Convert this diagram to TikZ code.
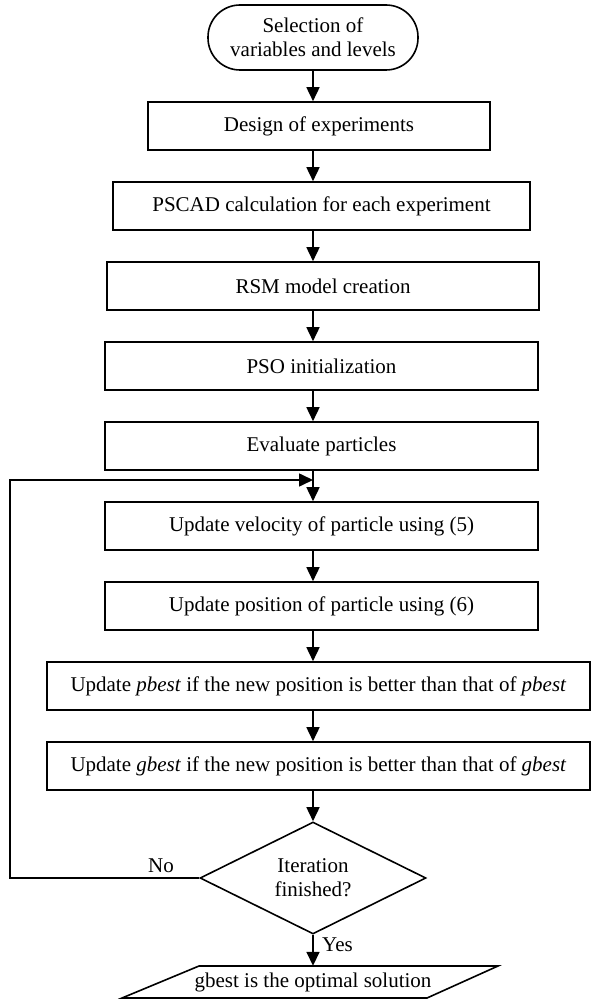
\documentclass[tikz,border=0pt]{standalone}
\usepackage{fontspec}
\setmainfont{Liberation Serif}
\usetikzlibrary{arrows.meta,shapes.geometric,calc}
\begin{document}
\begin{tikzpicture}[x=1pt,y=-1pt,
  every node/.style={font=\fontsize{21}{24}\selectfont},
  box/.style={draw,line width=1.6pt,rectangle,minimum height=48pt,inner sep=0pt,align=center},
  arr/.style={line width=1.6pt,-{Triangle[length=14pt,width=13pt]}},
  ln/.style={line width=1.6pt}]
\useasboundingbox (0,0) rectangle (591,1000);
\node[draw,line width=1.6pt,rounded corners=32pt,minimum width=210pt,minimum height=65pt,inner sep=0pt,align=center] (start) at (313,37.5) {Selection of\\variables and levels};
\node[box,minimum width=342pt] (design) at (319,126) {Design of experiments};
\node[box,minimum width=417pt] (pscad) at (321.5,206) {PSCAD calculation for each experiment};
\node[box,minimum width=432pt] (rsm) at (323,286) {RSM model creation};
\node[box,minimum width=433pt] (pso) at (321.5,366) {PSO initialization};
\node[box,minimum width=433pt] (eval) at (321.5,446) {Evaluate particles};
\node[box,minimum width=433pt] (vel) at (321.5,526) {Update velocity of particle using (5)};
\node[box,minimum width=433pt] (pos) at (321.5,606) {Update position of particle using (6)};
\node[box,minimum width=543pt] (pb) at (318.5,686) {Update \textit{pbest} if the new position is better than that of \textit{pbest}};
\node[box,minimum width=543pt] (gb) at (318.5,766) {Update \textit{gbest} if the new position is better than that of \textit{gbest}};
\node[draw,diamond,line width=1.6pt,aspect=2,inner sep=0pt,minimum width=226pt,minimum height=112pt,align=center] (dec) at (313,878) {Iteration\\finished?};
\node[minimum width=300pt,minimum height=32pt,inner sep=0pt] (out) at (313,982) {gbest is the optimal solution};
\draw[ln] (122,998) -- (199,966) -- (498,966) -- (427,998) -- cycle;
\coordinate (ax) at (313,0);
\coordinate (lx) at (10,0);
\coordinate (j) at (313,480);
\draw[arr] (start.south) -- (design.north -| start.south);
\draw[arr] (design.south -| ax) -- (pscad.north -| ax);
\draw[arr] (pscad.south -| ax) -- (rsm.north -| ax);
\draw[arr] (rsm.south -| ax) -- (pso.north -| ax);
\draw[arr] (pso.south -| ax) -- (eval.north -| ax);
\draw[arr] (eval.south -| ax) -- (vel.north -| ax);
\draw[arr] (vel.south -| ax) -- (pos.north -| ax);
\draw[arr] (pos.south -| ax) -- (pb.north -| ax);
\draw[arr] (pb.south -| ax) -- (gb.north -| ax);
\draw[arr] (gb.south -| ax) -- (dec.north);
\draw[arr] (dec.west) -- (dec.west -| lx) -- (lx |- j) -- (j);
\draw[arr] (dec.south) -- (dec.south |- out.north);
\node (no) at (161,866) {No};
\node[anchor=west,inner sep=0pt] (yes) at (322,945) {Yes};
\end{tikzpicture}
\end{document}
